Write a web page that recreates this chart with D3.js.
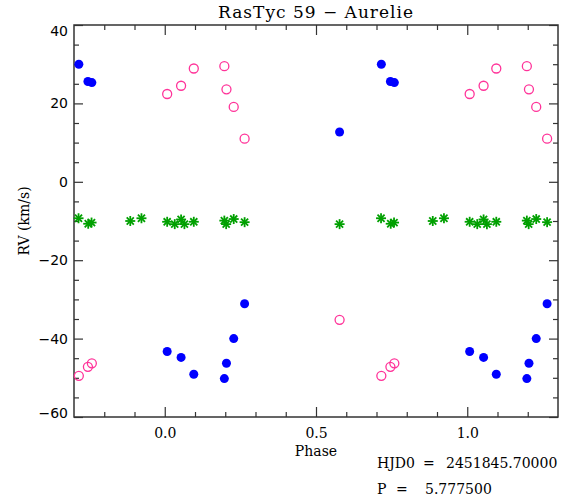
<!DOCTYPE html>
<html>
<head>
<meta charset="utf-8">
<script src="https://cdn.jsdelivr.net/npm/d3@7"></script>
<style>
  body { margin: 0; background: #fff; }
  text { font-family: "DejaVu Serif", serif; fill: #000; }
  .ylab text { font-family: "DejaVu Sans", sans-serif; }
</style>
</head>
<body>
<div id="chart"></div>
<script>
// phases folded into [0,1), plotted at phase-1, phase, phase+1
var primaryPhase = [0.008, 0.054, 0.096, 0.197, 0.204, 0.228, 0.264, 0.578, 0.716, 0.746, 0.759];
var primaryRV    = [-43.3, -44.8, -49.1, -50.2, -46.3, -40.0, -31.1, 12.7, 30.0, 25.6, 25.3];
var secondaryPhase = [0.008, 0.054, 0.096, 0.197, 0.204, 0.228, 0.264, 0.578, 0.716, 0.746, 0.759];
var secondaryRV    = [22.4, 24.5, 28.9, 29.5, 23.6, 19.1, 11.0, -35.2, -49.5, -47.2, -46.3];
var thirdPhase = [0.008, 0.033, 0.054, 0.065, 0.096, 0.197, 0.203, 0.228, 0.264, 0.578, 0.715, 0.747, 0.758, 0.886, 0.923];
var thirdRV    = [-10.2, -10.8, -9.6, -10.8, -10.2, -9.9, -10.8, -9.5, -10.3, -10.8, -9.3, -10.7, -10.4, -10.0, -9.3];

var xMajor = [0.0, 0.5, 1.0];
var xMinor = [-0.2, -0.1, 0.1, 0.2, 0.3, 0.4, 0.6, 0.7, 0.8, 0.9, 1.1, 1.2];
var yMajor = [-60, -40, -20, 0, 20, 40];
var yMinor = [-55, -50, -45, -35, -30, -25, -15, -10, -5, 5, 10, 15, 25, 30, 35];

var title = 'RasTyc 59 \u2212 Aurelie';
var hjd0 = '2451845.70000';
var period = '5.777500';

var width = 565, height = 501;
var margin = { top: 25, left: 74, right: 7, bottom: 84 };
var innerW = width - margin.left - margin.right;
var innerH = height - margin.top - margin.bottom;

var x = d3.scaleLinear().domain([-0.3, 1.3]).range([0, innerW]);
var y = d3.scaleLinear().domain([-60, 40]).range([innerH, 0]);

var svg = d3.select('#chart').append('svg')
  .attr('width', width)
  .attr('height', height);
var g = svg.append('g')
  .attr('transform', 'translate(' + margin.left + ',' + margin.top + ')');

function fold(phases, rvs) {
  var pts = [];
  for (var i = 0; i < phases.length; i++) {
    [-1, 0, 1].forEach(function (k) {
      var p = phases[i] + k;
      if (p >= -0.3 && p <= 1.3) pts.push({ p: p, rv: rvs[i] });
    });
  }
  return pts;
}

// axes: ticks point inward on all four sides
var axisColor = '#333';
function styleAxis(sel) {
  sel.selectAll('.domain').remove();
  sel.selectAll('line').attr('stroke', axisColor).attr('stroke-width', 1.2);
}
function fmtY(d) { return d < 0 ? '\u2212' + Math.abs(d) : String(d); }

g.append('g').attr('transform', 'translate(0,' + innerH + ')')
  .call(d3.axisBottom(x).tickValues(xMajor).tickSize(-10).tickPadding(11).tickFormat(d3.format('.1f')))
  .call(styleAxis)
  .selectAll('text').attr('font-size', 14).attr('font-family', '"DejaVu Serif", serif');
g.append('g').attr('transform', 'translate(0,' + innerH + ')')
  .call(d3.axisBottom(x).tickValues(xMinor).tickSize(-5).tickFormat(''))
  .call(styleAxis);
g.append('g')
  .call(d3.axisTop(x).tickValues(xMajor).tickSize(-10).tickFormat(''))
  .call(styleAxis);
g.append('g')
  .call(d3.axisTop(x).tickValues(xMinor).tickSize(-5).tickFormat(''))
  .call(styleAxis);

var yl = g.append('g').attr('class', 'ylab')
  .call(d3.axisLeft(y).tickValues(yMajor).tickSize(-9).tickPadding(6).tickFormat(fmtY))
  .call(styleAxis);
yl.selectAll('text').attr('font-size', 14).attr('font-family', '"DejaVu Sans", sans-serif')
  .attr('dy', function (d) { return d === 40 ? '0.75em' : d === -60 ? '0' : '0.32em'; });
g.append('g')
  .call(d3.axisLeft(y).tickValues(yMinor).tickSize(-5).tickFormat(''))
  .call(styleAxis);
g.append('g').attr('transform', 'translate(' + innerW + ',0)')
  .call(d3.axisRight(y).tickValues(yMajor).tickSize(-9).tickFormat(''))
  .call(styleAxis);
g.append('g').attr('transform', 'translate(' + innerW + ',0)')
  .call(d3.axisRight(y).tickValues(yMinor).tickSize(-5).tickFormat(''))
  .call(styleAxis);

g.append('rect')
  .attr('width', innerW).attr('height', innerH)
  .attr('fill', 'none').attr('stroke', axisColor).attr('stroke-width', 1.5);

// third component: asterisks
var star = 5;
var thirdG = g.selectAll('.third').data(fold(thirdPhase, thirdRV)).enter()
  .append('g').attr('class', 'third')
  .attr('transform', function (d) { return 'translate(' + x(d.p) + ',' + y(d.rv) + ')'; });
[0, 45, 90, 135].forEach(function (a) {
  var r = a * Math.PI / 180;
  thirdG.append('line')
    .attr('x1', -star * Math.cos(r)).attr('y1', -star * Math.sin(r))
    .attr('x2', star * Math.cos(r)).attr('y2', star * Math.sin(r))
    .attr('stroke', '#00a000').attr('stroke-width', 1.8);
});

// secondary: open circles
g.selectAll('.secondary').data(fold(secondaryPhase, secondaryRV)).enter()
  .append('circle').attr('class', 'secondary')
  .attr('cx', function (d) { return x(d.p); })
  .attr('cy', function (d) { return y(d.rv); })
  .attr('r', 4.5)
  .attr('fill', 'none').attr('stroke', '#ff3399').attr('stroke-width', 1.3);

// primary: filled circles
g.selectAll('.primary').data(fold(primaryPhase, primaryRV)).enter()
  .append('circle').attr('class', 'primary')
  .attr('cx', function (d) { return x(d.p); })
  .attr('cy', function (d) { return y(d.rv); })
  .attr('r', 4.5)
  .attr('fill', '#0000ff');

svg.append('text')
  .attr('x', margin.left + innerW / 2).attr('y', 18)
  .attr('text-anchor', 'middle').attr('font-size', 17).attr('letter-spacing', 1)
  .text(title);

svg.append('text')
  .attr('x', margin.left + innerW / 2).attr('y', 456)
  .attr('text-anchor', 'middle').attr('font-size', 14)
  .text('Phase');

svg.append('text')
  .attr('transform', 'translate(29,' + (margin.top + innerH / 2) + ') rotate(-90)')
  .attr('text-anchor', 'middle').attr('font-size', 14)
  .text('RV (km/s)');

svg.append('text').attr('x', 377).attr('y', 468).attr('font-size', 14).text('HJD0');
svg.append('text').attr('x', 423).attr('y', 468).attr('font-size', 14).text('=');
svg.append('text').attr('x', 446).attr('y', 468).attr('font-size', 14).text(hjd0);
svg.append('text').attr('x', 377).attr('y', 494).attr('font-size', 14).text('P');
svg.append('text').attr('x', 396).attr('y', 494).attr('font-size', 14).text('=');
svg.append('text').attr('x', 425).attr('y', 494).attr('font-size', 14).text(period);
</script>
</body>
</html>
